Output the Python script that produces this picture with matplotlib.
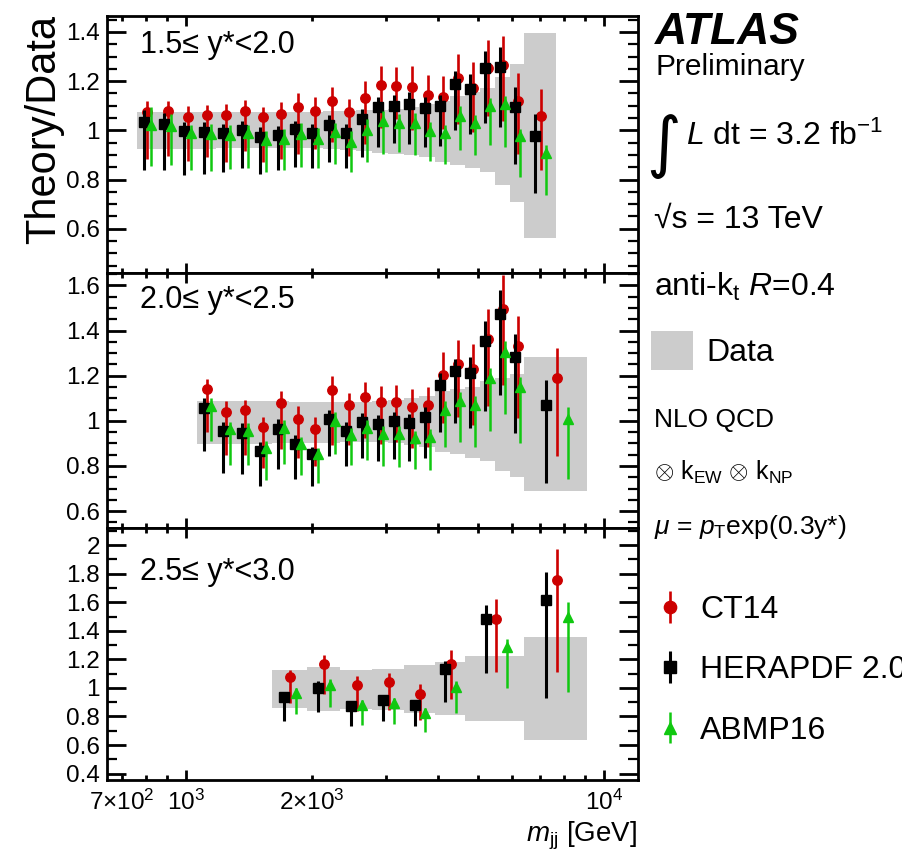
#!/usr/bin/env python3

"""
Theory/Data ratio of the dijet cross-section vs m_jj in three y* bins,
ATLAS 13 TeV style plot, NLO QCD with CT14, HERAPDF 2.0 and ABMP16.
"""

import numpy as np
import matplotlib
matplotlib.use('Agg')
import matplotlib.pyplot as plt
from matplotlib.ticker import MultipleLocator, FuncFormatter
from matplotlib.patches import Rectangle

plt.rcParams['font.family'] = ['Liberation Sans', 'DejaVu Sans']
plt.rcParams['mathtext.fontset'] = 'custom'
plt.rcParams['mathtext.rm'] = 'Liberation Sans'
plt.rcParams['mathtext.it'] = 'Liberation Sans:italic'
plt.rcParams['mathtext.bf'] = 'Liberation Sans:bold'

# ---------------------------------------------------------------
# Data
# ---------------------------------------------------------------

# 1.5 <= y* < 2.0
TOP_EDGES = [760, 850, 950, 1060, 1180, 1310, 1450, 1600, 1760, 1940, 2120, 2330,
             2550, 2780, 3040, 3310, 3610, 3930, 4270, 4640, 5040, 5470, 5940, 6440, 7650]
TOP_BAND_HI = [1.076, 1.076, 1.075, 1.075, 1.074, 1.074, 1.074, 1.074, 1.075, 1.076, 1.077, 1.079,
               1.081, 1.082, 1.086, 1.095, 1.106, 1.120, 1.140, 1.154, 1.174, 1.215, 1.269, 1.396]
TOP_BAND_LO = [0.925, 0.925, 0.926, 0.926, 0.927, 0.927, 0.928, 0.929, 0.929, 0.928, 0.926, 0.922,
               0.916, 0.909, 0.905, 0.898, 0.891, 0.872, 0.858, 0.848, 0.831, 0.777, 0.709, 0.562]
TOP_CT14 = [1.075, 1.078, 1.056, 1.061, 1.064, 1.080, 1.056, 1.067, 1.095, 1.080, 1.118, 1.073,
            1.132, 1.185, 1.180, 1.177, 1.144, 1.135, 1.212, 1.174, 1.254, 1.265, 1.120, 1.059]
TOP_CT14_UP = [1.118, 1.118, 1.099, 1.102, 1.106, 1.124, 1.097, 1.116, 1.150, 1.136, 1.178, 1.127,
               1.200, 1.260, 1.256, 1.260, 1.224, 1.222, 1.310, 1.276, 1.369, 1.385, 1.233, 1.170]
TOP_CT14_DN = [0.884, 0.895, 0.875, 0.891, 0.871, 0.916, 0.871, 0.884, 0.905, 0.925, 0.952, 0.895,
               0.943, 1.011, 1.045, 1.001, 0.980, 1.007, 1.024, 0.993, 1.059, 1.038, 0.905, 0.837]
TOP_HERA = [1.035, 1.027, 0.996, 0.993, 0.990, 1.001, 0.971, 0.981, 1.004, 0.990, 1.023, 0.988,
            1.045, 1.097, 1.099, 1.109, 1.091, 1.098, 1.188, 1.167, 1.252, 1.256, 1.095, 0.977]
TOP_HERA_UP = [1.082, 1.069, 1.034, 1.034, 1.027, 1.038, 1.014, 1.018, 1.038, 1.027, 1.061, 1.027,
               1.086, 1.137, 1.143, 1.156, 1.137, 1.143, 1.242, 1.229, 1.321, 1.337, 1.178, 1.065]
TOP_HERA_DN = [0.838, 0.838, 0.818, 0.823, 0.830, 0.845, 0.824, 0.838, 0.850, 0.848, 0.871, 0.848,
               0.893, 0.933, 0.947, 0.946, 0.933, 0.936, 1.000, 0.984, 1.029, 1.014, 0.865, 0.746]
TOP_ABMP = [1.022, 1.018, 0.988, 0.984, 0.981, 0.990, 0.961, 0.963, 0.984, 0.966, 0.995, 0.952,
            1.001, 1.038, 1.031, 1.029, 0.997, 0.990, 1.059, 1.029, 1.099, 1.107, 0.977, 0.909]
TOP_ABMP_UP = [1.093, 1.068, 1.022, 1.024, 1.020, 1.022, 0.997, 1.004, 1.031, 1.011, 1.029, 0.997,
               1.045, 1.079, 1.068, 1.069, 1.034, 1.022, 1.099, 1.061, 1.133, 1.140, 1.004, 0.939]
TOP_ABMP_DN = [0.857, 0.861, 0.838, 0.834, 0.841, 0.846, 0.831, 0.837, 0.852, 0.845, 0.864, 0.831,
               0.871, 0.905, 0.912, 0.898, 0.875, 0.865, 0.920, 0.898, 0.939, 0.933, 0.810, 0.736]

# 2.0 <= y* < 2.5
MID_EDGES = [1060, 1180, 1310, 1450, 1600, 1760, 1940, 2120, 2330, 2550, 2780, 3040,
             3310, 3610, 3930, 4270, 4640, 5040, 5470, 5940, 6440, 9080]
MID_BAND_HI = [1.086, 1.087, 1.087, 1.087, 1.086, 1.085, 1.084, 1.083, 1.084, 1.085, 1.086,
               1.093, 1.100, 1.108, 1.130, 1.141, 1.152, 1.175, 1.189, 1.209, 1.281]
MID_BAND_LO = [0.896, 0.897, 0.898, 0.899, 0.900, 0.901, 0.902, 0.903, 0.904, 0.905, 0.905,
               0.901, 0.893, 0.883, 0.864, 0.852, 0.834, 0.820, 0.778, 0.753, 0.689]
MID_CT14 = [1.140, 1.038, 1.047, 0.972, 1.078, 1.010, 0.963, 1.138, 1.070, 1.104, 1.083,
            1.083, 1.061, 1.070, 1.204, 1.253, 1.231, 1.364, 1.497, 1.330, 1.189]
MID_CT14_UP = [1.186, 1.086, 1.093, 1.015, 1.133, 1.064, 1.015, 1.200, 1.123, 1.170, 1.155,
               1.157, 1.141, 1.152, 1.303, 1.359, 1.342, 1.497, 1.645, 1.466, 1.322]
MID_CT14_DN = [0.950, 0.849, 0.849, 0.793, 0.876, 0.834, 0.800, 0.891, 0.893, 0.923, 0.896,
               0.908, 0.879, 0.882, 0.990, 1.015, 0.982, 1.064, 1.160, 1.012, 0.846]
MID_HERA = [1.056, 0.953, 0.948, 0.868, 0.964, 0.896, 0.855, 1.009, 0.953, 0.994, 0.985,
            0.997, 0.990, 1.015, 1.160, 1.222, 1.214, 1.355, 1.473, 1.283, 1.068]
MID_HERA_UP = [1.100, 0.994, 0.990, 0.908, 1.007, 0.938, 0.886, 1.049, 0.993, 1.034, 1.024,
               1.037, 1.031, 1.059, 1.212, 1.275, 1.281, 1.441, 1.578, 1.386, 1.179]
MID_HERA_DN = [0.868, 0.768, 0.763, 0.709, 0.787, 0.743, 0.712, 0.846, 0.800, 0.834, 0.822,
               0.831, 0.824, 0.834, 0.950, 0.990, 0.970, 1.044, 1.115, 0.948, 0.723]
MID_ABMP = [1.064, 0.963, 0.957, 0.879, 0.967, 0.896, 0.851, 1.000, 0.935, 0.967, 0.941,
            0.941, 0.923, 0.928, 1.049, 1.090, 1.071, 1.189, 1.303, 1.149, 1.010]
MID_ABMP_UP = [1.100, 0.994, 0.990, 0.911, 1.004, 0.930, 0.879, 1.041, 0.967, 1.004, 0.979,
               0.979, 0.957, 0.964, 1.086, 1.127, 1.111, 1.234, 1.352, 1.192, 1.059]
MID_ABMP_DN = [0.911, 0.802, 0.802, 0.738, 0.808, 0.760, 0.726, 0.852, 0.802, 0.827, 0.800,
               0.797, 0.786, 0.783, 0.883, 0.908, 0.886, 0.957, 1.030, 0.901, 0.741]

# 2.5 <= y* < 3.0
BOT_EDGES = [1600, 1940, 2330, 2780, 3310, 3930, 4640, 6440, 9080]
BOT_BAND_HI = [1.122, 1.143, 1.127, 1.134, 1.162, 1.178, 1.225, 1.360]
BOT_BAND_LO = [0.861, 0.837, 0.851, 0.842, 0.823, 0.812, 0.770, 0.632]
BOT_CT14 = [1.079, 1.169, 1.021, 1.038, 0.957, 1.167, 1.480, 1.758]
BOT_CT14_UP = [1.127, 1.231, 1.080, 1.104, 1.027, 1.267, 1.622, 1.975]
BOT_CT14_DN = [0.896, 0.958, 0.835, 0.847, 0.777, 0.924, 1.111, 1.111]
BOT_HERA = [0.938, 1.000, 0.870, 0.917, 0.882, 1.132, 1.484, 1.615]
BOT_HERA_UP = [0.965, 1.046, 0.905, 0.952, 0.917, 1.185, 1.578, 1.809]
BOT_HERA_DN = [0.769, 0.831, 0.730, 0.765, 0.730, 0.900, 1.104, 0.928]
BOT_ABMP = [0.961, 1.018, 0.880, 0.893, 0.823, 1.005, 1.286, 1.500]
BOT_ABMP_UP = [1.000, 1.065, 0.917, 0.928, 0.858, 1.045, 1.344, 1.601]
BOT_ABMP_DN = [0.820, 0.866, 0.741, 0.746, 0.690, 0.821, 0.999, 0.970]

PANEL_LABELS = ['1.5\u2264 y*<2.0', '2.0\u2264 y*<2.5', '2.5\u2264 y*<3.0']
PDF_NAMES = ['CT14', 'HERAPDF 2.0', 'ABMP16']

# x ticks
MAJOR_X = [1e3, 1e4]
MAJOR_X_LABELS = [r'$10^{3}$', r'$10^{4}$']
MINOR_X = [700, 800, 900, 2000, 3000, 4000, 5000, 6000, 7000, 8000, 9000]
MINOR_X_LABELS = [r'$7{\times}10^{2}$', '', '', r'$2{\times}10^{3}$', '', '', '', '', '', '', '']

# ---------------------------------------------------------------
# Style
# ---------------------------------------------------------------
W, H = 903, 861
RED = '#cc0000'
GREEN = '#10c810'
BAND = '#cccccc'


def fig_xy(px, py):
    """Convert pixel position (from top-left) to figure fraction."""
    return px / W, 1 - py / H


def fmt_ratio(v, pos):
    return f'{v:.1f}'.rstrip('0').rstrip('.')


def draw_panel(ax, edges, band_lo, band_hi, series, label, ylim, minor_step, label_y):
    """
    Draw one rapidity panel: data uncertainty band plus the three theory curves.
    """
    edges = np.asarray(edges, dtype=float)
    ax.stairs(band_hi, edges, baseline=band_lo, fill=True, color=BAND, lw=0, zorder=1)

    log_lo = np.log10(edges[:-1])
    log_hi = np.log10(edges[1:])
    centre = 0.5 * (log_lo + log_hi)
    width = log_hi - log_lo

    handles = []
    for val, up, dn, style in series:
        val = np.asarray(val)
        yerr = [val - np.asarray(dn), np.asarray(up) - val]
        x = 10 ** (centre + style['shift'] * width)
        h = ax.errorbar(x, val, yerr=yerr, fmt=style['marker'], color=style['color'],
                        ms=style['ms'], elinewidth=style['lw'], capsize=0,
                        zorder=style['z'])
        handles.append(h)

    ax.set_xscale('log')
    ax.set_xlim(646, 12040)
    ax.set_ylim(*ylim)
    ax.yaxis.set_major_locator(MultipleLocator(0.2))
    ax.yaxis.set_minor_locator(MultipleLocator(minor_step))
    ax.yaxis.set_major_formatter(FuncFormatter(fmt_ratio))

    ax.set_xticks(MAJOR_X)
    ax.set_xticks(MINOR_X, minor=True)

    ax.tick_params(axis='both', which='both', direction='in', top=True, right=True,
                   width=2, labelsize=17.5)
    ax.tick_params(axis='y', which='major', length=14, pad=5)
    ax.tick_params(axis='y', which='minor', length=7, width=1.6)
    ax.tick_params(axis='x', which='major', length=7.5, pad=7)
    ax.tick_params(axis='x', which='minor', length=3.8, pad=7)
    for sp in ax.spines.values():
        sp.set_linewidth(2)

    ax.text(0.062, label_y, label, transform=ax.transAxes, fontsize=22, va='center')
    return handles


def main():
    fig = plt.figure(figsize=(W / 100, H / 100), dpi=100)
    gs = fig.add_gridspec(3, 1, left=107 / W, right=638 / W, top=1 - 16 / H,
                          bottom=1 - 780 / H, hspace=0, height_ratios=[257, 255, 252])
    ax1 = fig.add_subplot(gs[0])
    ax2 = fig.add_subplot(gs[1], sharex=ax1)
    ax3 = fig.add_subplot(gs[2], sharex=ax1)

    st_ct14 = dict(marker='o', color=RED, ms=6.8, lw=1.9, shift=0.03, z=3)
    st_hera = dict(marker='s', color='black', ms=6.5, lw=2.2, shift=-0.15, z=4)
    st_abmp = dict(marker='^', color=GREEN, ms=7, lw=1.8, shift=0.2, z=5)

    handles = draw_panel(ax1, TOP_EDGES, TOP_BAND_LO, TOP_BAND_HI,
                         [(TOP_CT14, TOP_CT14_UP, TOP_CT14_DN, st_ct14),
                          (TOP_HERA, TOP_HERA_UP, TOP_HERA_DN, st_hera),
                          (TOP_ABMP, TOP_ABMP_UP, TOP_ABMP_DN, st_abmp)],
                         PANEL_LABELS[0], (0.42, 1.465), 0.05, 0.887)
    draw_panel(ax2, MID_EDGES, MID_BAND_LO, MID_BAND_HI,
               [(MID_CT14, MID_CT14_UP, MID_CT14_DN, st_ct14),
                (MID_HERA, MID_HERA_UP, MID_HERA_DN, st_hera),
                (MID_ABMP, MID_ABMP_UP, MID_ABMP_DN, st_abmp)],
               PANEL_LABELS[1], (0.525, 1.655), 0.05, 0.894)
    draw_panel(ax3, BOT_EDGES, BOT_BAND_LO, BOT_BAND_HI,
               [(BOT_CT14, BOT_CT14_UP, BOT_CT14_DN, st_ct14),
                (BOT_HERA, BOT_HERA_UP, BOT_HERA_DN, st_hera),
                (BOT_ABMP, BOT_ABMP_UP, BOT_ABMP_DN, st_abmp)],
               PANEL_LABELS[2], (0.355, 2.12), 0.1, 0.825)

    ax3.set_xticklabels(MAJOR_X_LABELS)
    ax3.set_xticklabels(MINOR_X_LABELS, minor=True)
    for ax in (ax1, ax2):
        ax.tick_params(axis='x', which='both', labelbottom=False)

    # axis titles
    fig.text(*fig_xy(44, 15), 'Theory/Data', rotation=90, fontsize=30, ha='center', va='top')
    fig.text(*fig_xy(637, 842), r'$m_{\mathrm{jj}}$ [GeV]', fontsize=20, ha='right', va='baseline')

    # ATLAS label and plot description
    fig.text(*fig_xy(655, 44), 'ATLAS', fontsize=32, fontweight='bold', style='italic', va='baseline')
    fig.text(*fig_xy(656, 75), 'Preliminary', fontsize=21.5, va='baseline')
    fig.text(*fig_xy(646, 146), '\u222b', family='DejaVu Sans', fontsize=48, va='center')
    fig.text(*fig_xy(686, 145), r'$L$ dt = 3.2 fb$^{-1}$', fontsize=23, va='baseline')
    fig.text(*fig_xy(654, 228), '\u221as = 13 TeV', fontsize=23, va='baseline')
    fig.text(*fig_xy(654, 296), r'anti-k$_{\mathrm{t}}$ $R$=0.4', fontsize=23, va='baseline')
    fig.add_artist(Rectangle(fig_xy(651, 370), 42 / W, 39 / H, transform=fig.transFigure,
                             color=BAND, lw=0))
    fig.text(*fig_xy(706, 361), 'Data', fontsize=23, va='baseline')
    fig.text(*fig_xy(654, 427), 'NLO QCD', fontsize=19, va='baseline')
    fig.text(*fig_xy(654, 480), r'$\otimes$ k$_{\mathrm{EW}}$ $\otimes$ k$_{\mathrm{NP}}$',
             fontsize=18, va='baseline')
    fig.text(*fig_xy(654, 534), r'$\mu$ = $p_{\mathrm{T}}$exp(0.3y*)', fontsize=19, va='baseline')

    fig.legend(handles, PDF_NAMES, loc='upper left', bbox_to_anchor=fig_xy(657, 595),
               frameon=False, fontsize=23, handlelength=0.8, handletextpad=0.55,
               labelspacing=0.95, markerscale=1.3, borderpad=0, borderaxespad=0)

    fig.savefig('out.png', dpi=100)


if __name__ == "__main__":
    main()
